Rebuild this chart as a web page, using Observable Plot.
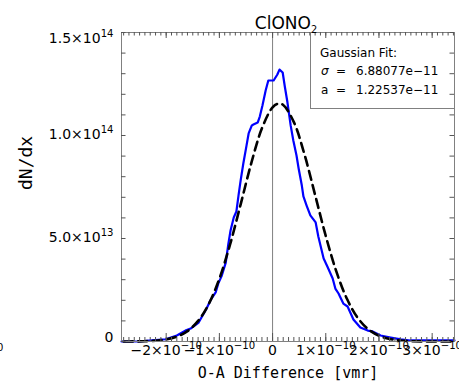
<!DOCTYPE html>
<html><head><meta charset="utf-8">
<script src="https://cdn.jsdelivr.net/npm/d3@7"></script>
<script src="https://cdn.jsdelivr.net/npm/@observablehq/plot@0.6"></script>
<style>body{margin:0;background:#fff}svg{display:block}</style>
</head><body><div id="chart"></div>
<script>
// ---- text ----
const titleText = "ClONO_2";
const xLabelText = "O-A Difference [vmr]";
const yLabelText = "dN/dx";
const legendTitle = "Gaussian Fit:";
const legendRows = [["σ", "=", "6.88077e-11"], ["a", "=", "1.22537e-11"]];
const strayText = "0";

// ---- ticks ----
const xDomain = [-2.84e-10, 3.42e-10];
const yDomain = [0, 1.5e14];
const xTicks = [-2e-10, -1e-10, 0, 1e-10, 2e-10, 3e-10];
const xTickLabels = ["−2×10^−10", "−1×10^−10", "0", "1×10^−10", "2×10^−10", "3×10^−10"];
const yTicks = [0, 5e13, 1e14, 1.5e14];
const yTickLabels = ["0", "5.0×10^13", "1.0×10^14", "1.5×10^14"];

// ---- observed histogram (blue) ----
const obsX = [-2.84e-10,-2.52e-10,-2.27e-10,-2.01e-10,-1.80e-10,-1.64e-10,-1.54e-10,-1.39e-10,-1.24e-10,-1.17e-10,
  -1.07e-10,-1.02e-10,-0.96e-10,-0.88e-10,-0.83e-10,-0.79e-10,-0.73e-10,-0.68e-10,-0.64e-10,-0.60e-10,
  -0.55e-10,-0.49e-10,-0.45e-10,-0.39e-10,-0.36e-10,-0.28e-10,-0.24e-10,-0.19e-10,-0.13e-10,-0.08e-10,
  0.02e-10,0.09e-10,0.13e-10,0.19e-10,0.23e-10,0.28e-10,0.34e-10,0.39e-10,0.45e-10,0.49e-10,
  0.55e-10,0.58e-10,0.64e-10,0.71e-10,0.81e-10,0.86e-10,0.96e-10,1.03e-10,1.13e-10,1.18e-10,
  1.24e-10,1.33e-10,1.41e-10,1.52e-10,1.65e-10,1.79e-10,1.88e-10,2.03e-10,2.22e-10,2.41e-10,
  2.59e-10,2.97e-10,3.42e-10];
const obsY = [0,0,0.005e14,0.011e14,0.029e14,0.053e14,0.063e14,0.092e14,0.160e14,0.199e14,
  0.238e14,0.282e14,0.316e14,0.383e14,0.476e14,0.539e14,0.602e14,0.631e14,0.709e14,0.782e14,
  0.864e14,0.951e14,1.010e14,1.049e14,1.053e14,1.063e14,1.092e14,1.146e14,1.218e14,1.267e14,
  1.267e14,1.296e14,1.320e14,1.306e14,1.238e14,1.160e14,1.049e14,0.976e14,0.903e14,0.840e14,
  0.757e14,0.704e14,0.660e14,0.612e14,0.578e14,0.510e14,0.403e14,0.364e14,0.306e14,0.257e14,
  0.233e14,0.184e14,0.170e14,0.107e14,0.068e14,0.053e14,0.049e14,0.029e14,0.019e14,0.010e14,
  0.005e14,0.005e14,0.005e14];

// ---- Gaussian fit (black dashed) ----
const fitX = [-2.8e-10,-2.6e-10,-2.4e-10,-2.2e-10,-2.0e-10,-1.8e-10,-1.6e-10,-1.4e-10,-1.2e-10,-1.0e-10,
  -0.8e-10,-0.6e-10,-0.4e-10,-0.2e-10,0,0.1e-10,0.2e-10,0.4e-10,0.6e-10,0.8e-10,
  1.0e-10,1.2e-10,1.4e-10,1.6e-10,1.8e-10,2.0e-10,2.2e-10,2.4e-10,2.6e-10,2.8e-10,
  3.0e-10,3.2e-10,3.4e-10];
const fitY = [0.0001e14,0.0005e14,0.0014e14,0.0039e14,0.0099e14,0.0233e14,0.0503e14,0.0999e14,0.182e14,0.305e14,
  0.470e14,0.666e14,0.866e14,1.035e14,1.137e14,1.154e14,1.148e14,1.065e14,0.908e14,0.711e14,
  0.512e14,0.339e14,0.206e14,0.115e14,0.0591e14,0.0279e14,0.0121e14,0.0048e14,0.0018e14,0.0006e14,
  0.0002e14,0.0001e14,0];

const obs = obsX.map((x, i) => ({x, y: obsY[i]}));
const fit = fitX.map((x, i) => ({x, y: fitY[i]}));
const xMinor = d3.range(-28, 35).map(i => i * 1e-11);
const yMinor = d3.range(0, 16).map(i => i * 1e13);
const xFmt = v => xTickLabels[xTicks.findIndex(t => Math.abs(t - v) < 1e-14)];
const yFmt = v => yTickLabels[yTicks.findIndex(t => Math.abs(t - v) < 1e9)];
const AX = "#808080";

function legendMark(index, scales, values, dims) {
  const g = d3.create("svg:g").attr("font-family", "DejaVu Sans").attr("font-size", 12)
    .attr("fill", "black").attr("text-anchor", "start");
  const x0 = dims.width - dims.marginRight - 144, y0 = dims.marginTop;
  g.append("rect").attr("x", x0 + 0.5).attr("y", y0 + 0.5).attr("width", 144).attr("height", 76)
    .attr("fill", "none").attr("stroke", AX);
  g.append("text").attr("x", x0 + 10).attr("y", y0 + 25).text(legendTitle);
  legendRows.forEach((r, i) => {
    const y = y0 + 43 + i * 18.5;
    g.append("text").attr("x", x0 + 11).attr("y", y).attr("font-style", i === 0 ? "italic" : null).text(r[0]);
    g.append("text").attr("x", x0 + 26).attr("y", y).text(r[1]);
    g.append("text").attr("x", x0 + 46).attr("y", y).text(r[2].replace("-", "−"));
  });
  g.append("text").attr("x", -3).attr("y", 351).attr("font-size", 10).text(strayText);
  return g.node();
}

const tickStyle = {stroke: "#555", strokeWidth: 1};
const plot = Plot.plot({
  width: 459, height: 389,
  marginLeft: 121, marginRight: 5, marginTop: 32, marginBottom: 48,
  style: {fontFamily: "DejaVu Sans", fontSize: "14px", color: "black", background: "white", overflow: "hidden"},
  x: {domain: xDomain},
  y: {domain: yDomain},
  marks: [
    legendMark,
    Plot.ruleX([0], {stroke: AX, strokeWidth: 1}),
    Plot.line(obs, {x: "x", y: "y", stroke: "#0000ff", strokeWidth: 2.2}),
    Plot.line(fit, {x: "x", y: "y", stroke: "black", strokeWidth: 2.6, strokeDasharray: "9,5.5", curve: "catmull-rom"}),
    Plot.frame({stroke: AX}),
    // inward ticks (rules of zero data length, extended by negative insets)
    Plot.ruleX(xMinor, {x: d => d, y1: yDomain[0], y2: yDomain[0], insetTop: -4, ...tickStyle}),
    Plot.ruleX(xTicks, {x: d => d, y1: yDomain[0], y2: yDomain[0], insetTop: -8, ...tickStyle}),
    Plot.ruleX(xMinor, {x: d => d, y1: yDomain[1], y2: yDomain[1], insetBottom: -3.5, ...tickStyle}),
    Plot.ruleX(xTicks, {x: d => d, y1: yDomain[1], y2: yDomain[1], insetBottom: -6, ...tickStyle}),
    Plot.ruleY(yMinor, {y: d => d, x1: xDomain[0], x2: xDomain[0], insetRight: -4.5, ...tickStyle}),
    Plot.ruleY(yMinor, {y: d => d, x1: xDomain[1], x2: xDomain[1], insetLeft: -4.5, ...tickStyle}),
    // tick labels
    Plot.axisX(xTicks, {anchor: "bottom", tickSize: 0, tickPadding: 4, tickFormat: xFmt, label: null, fontSize: 14}),
    Plot.axisY([1.5e14], {anchor: "left", tickSize: 0, tickPadding: 8, tickFormat: yFmt, label: null, dy: 6, fontSize: 14}),
    Plot.axisY([5e13, 1e14], {anchor: "left", tickSize: 0, tickPadding: 8, tickFormat: yFmt, label: null, dy: -1, fontSize: 14}),
    Plot.axisY([0], {anchor: "left", tickSize: 0, tickPadding: 8, tickFormat: yFmt, label: null, dy: -4, fontSize: 14}),
    // titles
    Plot.text([titleText], {frameAnchor: "top", dx: -2, dy: -16, fontSize: 17}),
    Plot.text([xLabelText], {frameAnchor: "bottom", dy: 36, fontSize: 15, fontFamily: "DejaVu Sans Mono"}),
    Plot.text([yLabelText], {frameAnchor: "left", dx: -95, dy: 3, rotate: -90, fontSize: 18, fontFamily: "DejaVu Sans Mono"})
  ]
});

// rich text: ^ superscript, _ subscript
const NS = "http://www.w3.org/2000/svg";
plot.querySelectorAll("text").forEach(t => {
  const s = t.textContent;
  const m = s.match(/^(.*?)([\^_])(.*)$/);
  if (!m) return;
  t.textContent = "";
  t.appendChild(document.createTextNode(m[1]));
  const sp = document.createElementNS(NS, "tspan");
  const fs = parseFloat(getComputedStyle(t).fontSize) || 14;
  if (m[2] === "^") { sp.setAttribute("dy", -0.45 * fs); sp.setAttribute("font-size", 0.72 * fs); }
  else { sp.setAttribute("dy", 0.3 * fs); sp.setAttribute("font-size", 0.7 * fs); }
  sp.textContent = m[3];
  t.appendChild(sp);
});
document.getElementById("chart").appendChild(plot);
</script></body></html>
